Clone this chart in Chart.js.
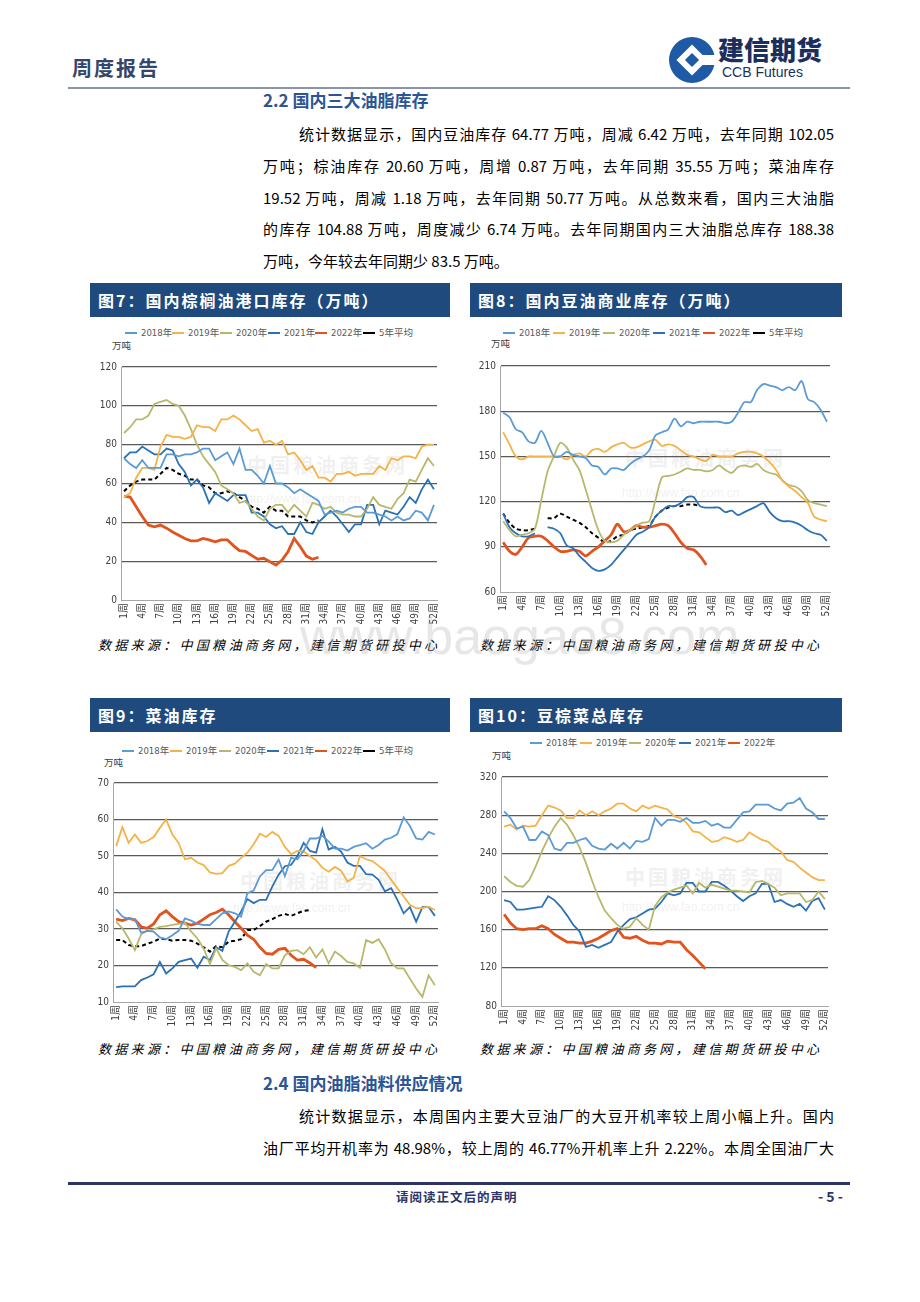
<!DOCTYPE html>
<html>
<head>
<meta charset="utf-8">
<script src="https://cdn.jsdelivr.net/npm/chart.js@4.4.1/dist/chart.umd.min.js"></script>
<style>
body { margin: 0; width: 920px; height: 1302px; position: relative; overflow: hidden; background: #fff; font-family: "Noto Sans CJK SC", sans-serif; color: #000; }
.abs { position: absolute; }
.bar { position: absolute; height: 34px; background: #1f4a7e; color: #fff; font-weight: 700; font-size: 16px; letter-spacing: 2px; line-height: 34px; padding-left: 8px; box-sizing: border-box; }
.src { position: absolute; font-size: 13px; letter-spacing: 3.3px; font-style: italic; line-height: 16px; }
.li { position: absolute; font-family: "Liberation Sans Narrow", "DejaVu Sans Condensed", "Noto Sans CJK SC", sans-serif; font-size: 9.5px; color: #595959; line-height: 12px; white-space: nowrap; }
.li i { display: inline-block; width: 12px; height: 0; border-top: 2.5px solid; vertical-align: middle; margin-right: 4px; position: relative; top: -1px; }
.unit { position: absolute; font-size: 9.5px; color: #404040; line-height: 12px; }
.jl { position: absolute; font-size: 15px; line-height: 20px; text-align: justify; text-align-last: justify; white-space: nowrap; }
.jl.last { text-align-last: left; }
.h2 { position: absolute; font-size: 17px; font-weight: 700; color: #2c5596; line-height: 22px; }
canvas { position: absolute; z-index: 1; }
.wm { position: absolute; color: rgba(190,190,190,0.22); z-index: 0; white-space: nowrap; }
</style>
</head>
<body>

<!-- header -->
<div class="abs" style="left:72px;top:55px;font-size:20px;font-weight:700;letter-spacing:2px;color:#34466b;line-height:26px;">周度报告</div>
<svg class="abs" style="left:668px;top:36px;" width="48" height="48" viewBox="0 0 48 48">
  <circle cx="24" cy="24" r="23" fill="#1f5aa6"/>
  <rect x="13" y="13" width="22" height="22" fill="#fff" transform="rotate(45 24 24)"/>
  <rect x="19" y="19" width="10" height="10" fill="#1f5aa6" transform="rotate(45 24 24)"/>
  <rect x="33" y="19" width="16" height="10" fill="#fff"/>
</svg>
<div class="abs" style="left:718px;top:34px;font-size:26px;font-weight:900;color:#1b2f5e;line-height:30px;letter-spacing:0px;">建信期货</div>
<div class="abs" style="left:722px;top:64px;font-family:'Liberation Sans','Noto Sans',sans-serif;font-size:14px;color:#1b2f5e;line-height:16px;">CCB Futures</div>
<div class="abs" style="left:68px;top:87px;width:782px;height:2px;background:#8a93aa;"></div>

<div class="h2" style="left:263px;top:89px;">2.2 国内三大油脂库存</div>
<div class="jl" style="left:299px;top:124px;width:535px;">统计数据显示，国内豆油库存 64.77 万吨，周减 6.42 万吨，去年同期 102.05</div>
<div class="jl" style="left:263px;top:156px;width:571px;">万吨；棕油库存 20.60 万吨，周增 0.87 万吨，去年同期 35.55 万吨；菜油库存</div>
<div class="jl" style="left:263px;top:188px;width:571px;">19.52 万吨，周减 1.18 万吨，去年同期 50.77 万吨。从总数来看，国内三大油脂</div>
<div class="jl" style="left:263px;top:219px;width:571px;">的库存 104.88 万吨，周度减少 6.74 万吨。去年同期国内三大油脂总库存 188.38</div>
<div class="jl last" style="left:263px;top:251px;">万吨，今年较去年同期少 83.5 万吨。</div>

<!-- chart titles -->
<div class="bar" style="left:90px;top:283px;width:360px;">图7：国内棕榈油港口库存（万吨）</div>
<div class="bar" style="left:470px;top:283px;width:372px;">图8：国内豆油商业库存（万吨）</div>
<div class="bar" style="left:90px;top:698px;width:360px;">图9：菜油库存</div>
<div class="bar" style="left:470px;top:698px;width:372px;">图10：豆棕菜总库存</div>

<!-- chart watermarks -->
<div class="wm" style="left:247px;top:450px;font-size:20px;font-weight:700;letter-spacing:3px;">中国粮油商务网</div>
<div class="wm" style="left:243px;top:492px;font-family:'Liberation Sans',sans-serif;font-size:12px;">http://www.fao.com.cn</div>
<div class="wm" style="left:625px;top:443px;font-size:20px;font-weight:700;letter-spacing:3px;">中国粮油商务网</div>
<div class="wm" style="left:622px;top:486px;font-family:'Liberation Sans',sans-serif;font-size:12px;">http://www.fao.com.cn</div>
<div class="wm" style="left:240px;top:866px;font-size:20px;font-weight:700;letter-spacing:3px;">中国粮油商务网</div>
<div class="wm" style="left:233px;top:901px;font-family:'Liberation Sans',sans-serif;font-size:12px;">http://www.fao.com.cn</div>
<div class="wm" style="left:625px;top:862px;font-size:20px;font-weight:700;letter-spacing:3px;">中国粮油商务网</div>
<div class="wm" style="left:622px;top:900px;font-family:'Liberation Sans',sans-serif;font-size:12px;">http://www.fao.com.cn</div>

<!-- legends -->
<div class="li" style="left:125px;top:327px;"><i style="border-color:#5b9bd5"></i>2018年</div>
<div class="li" style="left:172px;top:327px;"><i style="border-color:#f5b247"></i>2019年</div>
<div class="li" style="left:220px;top:327px;"><i style="border-color:#b8b86c"></i>2020年</div>
<div class="li" style="left:268px;top:327px;"><i style="border-color:#2a72b5"></i>2021年</div>
<div class="li" style="left:315px;top:327px;"><i style="border-color:#e2531e"></i>2022年</div>
<div class="li" style="left:363px;top:327px;"><i style="border-color:#000;border-top-style:dashed"></i>5年平均</div>
<div class="unit" style="left:112px;top:339px;">万吨</div>

<div class="li" style="left:503px;top:327px;"><i style="border-color:#5b9bd5"></i>2018年</div>
<div class="li" style="left:553px;top:327px;"><i style="border-color:#f5b247"></i>2019年</div>
<div class="li" style="left:603px;top:327px;"><i style="border-color:#b8b86c"></i>2020年</div>
<div class="li" style="left:653px;top:327px;"><i style="border-color:#2a72b5"></i>2021年</div>
<div class="li" style="left:703px;top:327px;"><i style="border-color:#e2531e"></i>2022年</div>
<div class="li" style="left:753px;top:327px;"><i style="border-color:#000;border-top-style:dashed"></i>5年平均</div>
<div class="unit" style="left:491px;top:337px;">万吨</div>

<div class="li" style="left:122px;top:745px;"><i style="border-color:#5b9bd5"></i>2018年</div>
<div class="li" style="left:170px;top:745px;"><i style="border-color:#f5b247"></i>2019年</div>
<div class="li" style="left:219px;top:745px;"><i style="border-color:#b8b86c"></i>2020年</div>
<div class="li" style="left:267px;top:745px;"><i style="border-color:#2a72b5"></i>2021年</div>
<div class="li" style="left:315px;top:745px;"><i style="border-color:#e2531e"></i>2022年</div>
<div class="li" style="left:363px;top:745px;"><i style="border-color:#000;border-top-style:dashed"></i>5年平均</div>
<div class="unit" style="left:104px;top:756px;">万吨</div>

<div class="li" style="left:530px;top:737px;"><i style="border-color:#5b9bd5"></i>2018年</div>
<div class="li" style="left:580px;top:737px;"><i style="border-color:#f5b247"></i>2019年</div>
<div class="li" style="left:629px;top:737px;"><i style="border-color:#b8b86c"></i>2020年</div>
<div class="li" style="left:679px;top:737px;"><i style="border-color:#2a72b5"></i>2021年</div>
<div class="li" style="left:728px;top:737px;"><i style="border-color:#e2531e"></i>2022年</div>
<div class="unit" style="left:492px;top:749px;">万吨</div>

<canvas id="palmChart" width="364" height="276" style="left:86px;top:355px;"></canvas>
<canvas id="soyChart" width="376" height="269" style="left:466px;top:354px;"></canvas>
<canvas id="rapeChart" width="370" height="262" style="left:80px;top:771px;"></canvas>
<canvas id="totalChart" width="376" height="272" style="left:466px;top:765px;"></canvas>

<div class="src" style="left:98px;top:637px;">数据来源：中国粮油商务网，建信期货研投中心</div>
<div class="src" style="left:480px;top:637px;">数据来源：中国粮油商务网，建信期货研投中心</div>
<div class="src" style="left:98px;top:1041px;">数据来源：中国粮油商务网，建信期货研投中心</div>
<div class="src" style="left:480px;top:1041px;">数据来源：中国粮油商务网，建信期货研投中心</div>

<div class="wm" style="left:300px;top:606px;font-family:'Liberation Sans',sans-serif;font-size:52px;color:rgba(170,170,170,0.28);z-index:2;">www.baogao8.com</div>

<div class="h2" style="left:263px;top:1072px;">2.4 国内油脂油料供应情况</div>
<div class="jl" style="left:299px;top:1106px;width:535px;">统计数据显示，本周国内主要大豆油厂的大豆开机率较上周小幅上升。国内</div>
<div class="jl" style="left:263px;top:1138px;width:571px;">油厂平均开机率为 48.98%，较上周的 46.77%开机率上升 2.22%。本周全国油厂大</div>

<div class="abs" style="left:68px;top:1182px;width:782px;height:3px;background:#2b3568;"></div>
<div class="abs" style="left:396px;top:1189px;font-size:12.5px;font-weight:700;color:#2b3568;letter-spacing:1px;line-height:16px;">请阅读正文后的声明</div>
<div class="abs" style="left:818px;top:1187px;font-size:14px;font-weight:700;color:#2b3568;line-height:18px;">- 5 -</div>

<script>
const weeks = ['1周','2周','3周','4周','5周','6周','7周','8周','9周','10周','11周','12周','13周','14周','15周','16周','17周','18周','19周','20周','21周','22周','23周','24周','25周','26周','27周','28周','29周','30周','31周','32周','33周','34周','35周','36周','37周','38周','39周','40周','41周','42周','43周','44周','45周','46周','47周','48周','49周','50周','51周','52周']

// 图7 棕榈油港口库存
const palm2018 = [73,70,68,72,68,68,68,75,75,74,75,75,76,78,78,72,74,76,70,78,67,67,64,60,69,60,60,58,55,57,55,53,51,44,45,46,45,47,48,48,45,45,44,43,41,43,41,42,46,45,41,49]
const palm2019 = [53,55,63,68,68,67,79,85,84,84,83,84,90,89,89,87,93,93,95,93,90,87,88,81,82,80,82,75,76,72,67,69,63,63,61,65,65,66,64,65,65,65,69,67,73,72,74,74,73,79,80,80]
const palm2020 = [86,89,93,93,95,101,102,103,101,100,95,88,80,74,70,66,59,57,55,50,51,47,43,41,47,49,49,45,49,46,43,50,49,47,48,45,44,44,43,43,47,53,49,48,47,52,55,62,61,67,73,69]
const palm2021 = [73,76,76,79,77,75,75,78,77,70,66,59,62,58,50,55,53,51,54,54,54,45,45,43,39,37,38,34,34,40,35,34,40,43,46,43,39,35,39,39,49,49,39,46,45,44,48,53,50,57,62,57]
const palm2022 = [53.5,53,48,43,38.6,37.7,38.6,37,35,33.4,31.7,30.5,30.5,31.7,31,30,31,31,28,25.4,25,23,21,21.5,19.7,18,20.6,25,31.7,27.4,22.6,21,22]
const palmAvg = [56,59,61,62,62,62,65,68,67,65,64,62,62,59,58,55,55,56,55,53,51,48,47,45,48,46,46,43,43,43,41,40,41]

// 图8 豆油商业库存
const soy2018 = [179,176,168,166,160,159,167,159,150,150,153,151,150,149,144,143,138,142,142,141,145,148,150,154,164,166,168,175,170,173,172,173,173,173,173,172,173,179,186,186,194,198,197,196,194,196,194,200,188,186,181,173]
const soy2019 = [166,158,150,148,150,150,150,150,150,150,148,151,152,150,154,155,153,156,158,159,156,156,158,160,161,157,158,157,154,151,150,148,147,151,150,150,150,152,153,153,152,150,146,141,134,130,127,123,119,110,108,107]
const soy2020 = [107,101,97,98,99,102,121,140,150,159,156,148,141,128,114,101,94,93,94,98,101,104,106,107,121,136,137,138,140,142,141,141,140,141,144,141,139,143,144,143,145,141,139,138,134,131,130,127,121,119,118,117]
const soy2021 = [112,103,99,97,97,99,null,103,102,99,91,89,84,80,76,74,75,78,83,88,93,98,100,103,110,114,117,117,119,123,123,117,116,116,116,113,114,111,113,115,117,119,113,109,107,107,106,104,101,99,98,94]
const soy2022 = [93,87,85,90,96,97,97,94,90,87,87,88,87,84,87,90,94,98,105,100,101,104,103,103,104,105,104,99,93,89,88,84,78]
const soyAvg = [112,106,102,101,101,102,null,109,109,112,110,108,106,103,99,96,93,94,97,98,101,102,103,104,110,114,116,117,117,118,118,117]

// 图9 菜油库存
const rape2018 = [35.4,33.4,32.7,32.7,29,29.5,29.3,27.7,27.2,28.3,29.5,32.9,32.3,31.4,31.1,31.1,32.7,34.3,34.8,34.3,33.4,39.8,40.5,44.4,46.1,46.2,49,44.5,49.5,49.1,51.4,54.8,54.8,55.5,54,52,52,51.5,52.5,53,53.5,52,53,54.5,55,56,60.6,58.2,54.8,54.5,56.6,55.9]
const rape2019 = [52.7,57.9,53.6,55.9,53.6,54.1,55.2,57.7,60,55.9,53.6,49.1,49.5,48.2,47.5,45.5,45.1,45.3,47.3,47.9,49.5,50.9,53.2,56.1,55.2,56.6,55.5,52.5,50.5,51.4,51.2,50,48.8,46.8,45.7,47,46,43,44,50,49.1,48.6,47.3,45.9,43.5,41.2,38.9,36.6,35.7,35.7,36.1,35.2]
const rape2020 = [32,30.2,27.4,24.2,28.6,29.5,29.9,30.6,30.8,31.1,31.4,31.7,29.3,27.4,24.7,20.4,24.7,21.5,20.1,19.6,18.7,20.6,18.3,17.3,20.4,19.2,19.2,22.8,24,24.2,23.1,25,22.2,24.4,20.6,23.8,22.6,21,20.6,19.4,27,26.2,27.2,24.4,20.6,19.2,19.2,16.4,13.7,11.4,17.3,14.6]
const rape2021 = [14.1,14.3,14.3,14.3,16,16.7,17.6,21,17.8,19.2,21,21.5,21.9,19.4,22.4,21.5,25,24,29.3,32,34.8,38.2,37.1,38,38,41.7,44.9,47.2,47.6,50,53.6,51.4,50.9,57.3,51.8,52.5,51.2,48.2,47.3,47.3,45,44.9,43.5,40.3,41.2,38,34.3,36,32,36,36,33.6]
const rape2022 = [32.7,32.3,32.9,32.5,30.6,30.2,31.4,33.9,35,33.4,32,31.6,31.1,31.6,32.7,33.9,34.5,35.4,33.9,32,30.2,28.3,27.2,25,23.3,23.1,24.4,24.7,22.8,21.5,21.7,20.7,19.4]
const rapeAvg = [27,27,25.6,25.3,25.3,26,26.5,27.4,27.2,26.8,27,27,26.8,26,25,23.8,25.3,25,26.5,26.8,27.2,29.7,29.7,30.8,32,32.7,33.6,34.1,33.6,34.3,35,35.2]

// 图10 豆棕菜总库存
const total2018 = [284,277,266,268,254,254,263,259,245,243,251,251,254,256,248,245,244,250,245,251,245,253,252,255,277,269,275,275,273,277,272,272,274,269,271,267,267,275,283,284,291,291,291,287,285,292,293,298,287,283,276,276]
const total2019 = [268,270,265,269,268,269,280,290,288,285,277,277,285,280,284,280,284,287,292,292,287,284,290,287,290,288,286,279,277,272,263,262,257,252,253,257,255,252,254,262,258,254,252,246,242,233,231,225,220,215,212,212]
const total2020 = [216,210,206,205,212,226,242,256,268,277,270,259,246,230,211,194,180,172,165,161,163,172,165,160,185,194,199,202,204,206,198,209,204,207,205,203,201,201,200,199,210,211,208,204,196,198,198,198,189,191,200,192]
const total2021 = [191,189,181,181,182,183,184,195,191,184,175,165,158,142,144,141,144,147,158,165,171,173,177,181,182,189,198,196,198,209,209,200,200,210,210,206,201,195,190,195,198,208,208,189,191,187,184,187,180,190,193,181]
const total2022 = [176,167,161,160,161,161,164,161,155,151,147,147,146,146,148,151,155,159,161,152,151,153,149,146,146,145,148,147,147,139,133,126,119]

const c2018 = '#5b9bd5', c2019 = '#f5b247', c2020 = '#b8b86c', c2021 = '#2a72b5', c2022 = '#e2531e'
const tickFont = { family: "'Liberation Sans Narrow','DejaVu Sans Condensed','Noto Sans CJK SC',sans-serif", size: 10 }

function drawChart(id, yMin, yMax, yStep, sets, yWidth, pad, tension) {
    return new Chart(document.getElementById(id), {
        type: 'line',
        data: {
            labels: weeks,
            datasets: sets.map(s => ({
                label: s[0], data: s[1], borderColor: s[2], borderWidth: s[3],
                borderDash: s[4] || [], pointRadius: 0, fill: false, tension: tension
            }))
        },
        options: {
            responsive: false,
            animation: false,
            layout: { autoPadding: false, padding: pad },
            plugins: { legend: { display: false }, tooltip: { enabled: false } },
            scales: {
                x: {
                    offset: true,
                    grid: { display: false, drawTicks: false },
                    border: { color: '#a6a6a6', width: 1 },
                    ticks: {
                        autoSkip: false, maxRotation: 90, minRotation: 90, padding: 3,
                        color: '#404040', font: tickFont,
                        callback: (v, i) => i % 3 === 0 ? weeks[i] : ''
                    },
                    afterFit: s => { s.height = 31 }
                },
                y: {
                    min: yMin, max: yMax,
                    grid: { color: c => c.tick.value === yMin ? 'rgba(0,0,0,0)' : '#5a5a5a', lineWidth: 1.3, drawTicks: false },
                    border: { color: '#a6a6a6', width: 1 },
                    ticks: { stepSize: yStep, padding: 4, color: '#404040', font: tickFont },
                    afterFit: s => { s.width = yWidth }
                }
            }
        }
    })
}

drawChart('palmChart', 0, 120, 20, [
    ['2018年', palm2018, c2018, 1.8],
    ['2019年', palm2019, c2019, 1.8],
    ['2020年', palm2020, c2020, 1.8],
    ['2021年', palm2021, c2021, 1.8],
    ['2022年', palm2022, c2022, 2.8],
    ['5年平均', palmAvg, '#000', 2, [4, 3]]
], 35, { top: 12, right: 13, bottom: 0, left: 0 }, 0)

drawChart('soyChart', 60, 210, 30, [
    ['2018年', soy2018, c2018, 1.8],
    ['2019年', soy2019, c2019, 1.8],
    ['2020年', soy2020, c2020, 1.8],
    ['2021年', soy2021, c2021, 1.8],
    ['2022年', soy2022, c2022, 2.8],
    ['5年平均', soyAvg, '#000', 2, [4, 3]]
], 34, { top: 12, right: 10, bottom: 0, left: 0 }, 0.3)

drawChart('rapeChart', 10, 70, 10, [
    ['2018年', rape2018, c2018, 1.8],
    ['2019年', rape2019, c2019, 1.8],
    ['2020年', rape2020, c2020, 1.8],
    ['2021年', rape2021, c2021, 1.8],
    ['2022年', rape2022, c2022, 2.8],
    ['5年平均', rapeAvg, '#000', 2, [4, 3]]
], 33, { top: 12, right: 11, bottom: 0, left: 0 }, 0)

drawChart('totalChart', 80, 320, 40, [
    ['2018年', total2018, c2018, 1.8],
    ['2019年', total2019, c2019, 1.8],
    ['2020年', total2020, c2020, 1.8],
    ['2021年', total2021, c2021, 1.8],
    ['2022年', total2022, c2022, 2.8]
], 35, { top: 12, right: 14, bottom: 0, left: 0 }, 0)
</script>
</body>
</html>
